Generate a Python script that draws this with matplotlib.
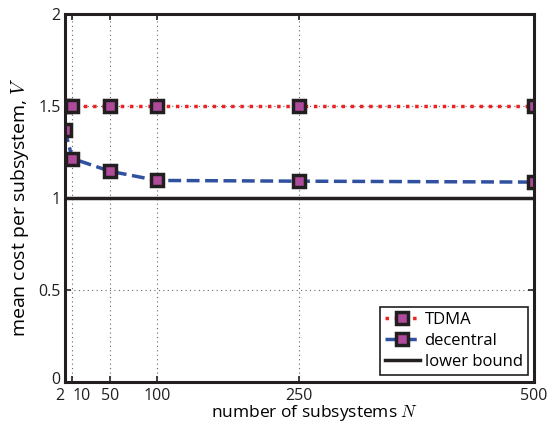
import matplotlib
matplotlib.use('Agg')
import matplotlib.pyplot as plt
from matplotlib.transforms import ScaledTranslation

N = [2, 10, 50, 100, 250, 500]
tdma = [1.5, 1.5, 1.5, 1.5, 1.5, 1.5]
decentral = [1.37, 1.213, 1.144, 1.094, 1.09, 1.085]
lower = [1.0, 1.0]
lower_N = [2, 500]

xticks = [2, 10, 50, 100, 250, 500]
xticklabels = ['2', '10', '50', '100', '250', '500']
yticks = [0, 0.5, 1, 1.5, 2]
yticklabels = ['0', '0.5', '1', '1.5', '2']

plt.rcParams['font.family'] = ['Open Sans', 'DejaVu Sans']
plt.rcParams['mathtext.fontset'] = 'cm'

fig = plt.figure(figsize=(5.49, 4.23), dpi=100)
ax = fig.add_axes([0.118, 0.097, 0.855, 0.871])

mk = dict(marker='s', markersize=8, markerfacecolor='#b04a9a',
          markeredgecolor='#231f20', markeredgewidth=2.5)
ax.plot(N, tdma, ':', color='#ee2222', lw=2.5, label='TDMA', **mk)
ax.plot(N, decentral, '--', color='#3050a0', lw=2.5, label='decentral', **mk)
ax.plot(lower_N, lower, '-', color='#231f20', lw=2.5, label='lower bound')

ax.set_xlim(2, 500)
ax.set_ylim(0, 2)
ax.set_xticks(xticks)
ax.set_xticklabels(xticklabels)
ax.set_yticks(yticks)
ax.set_yticklabels(yticklabels)
ax.tick_params(direction='in', labelsize=11.5, width=1.2, length=4,
               top=True, right=True, colors='#231f20')
ax.tick_params(axis='x', pad=4.5)
ax.tick_params(axis='y', pad=3)
tl = ax.get_xticklabels()
tl[0].set_horizontalalignment('right')
tl[1].set_horizontalalignment('left')
# nudge the "0" up a little so it does not sit on the "2"
y0 = ax.get_yticklabels()[0]
y0.set_transform(y0.get_transform() + ScaledTranslation(0, 2.5 / 72, fig.dpi_scale_trans))
for s in ax.spines.values():
    s.set_linewidth(2.2)
    s.set_color('#231f20')
ax.grid(True, linestyle=(0, (1, 3)), color='#666666', lw=0.8)

ax.set_xlabel('number of subsystems $N$', fontsize=12.5)
ax.set_ylabel('mean cost per subsystem, $V$', fontsize=14)
ax.xaxis.set_label_coords(0.533, -0.057)
ax.yaxis.set_label_coords(-0.072, 0.474)

leg = ax.legend(loc='lower right', fontsize=12, fancybox=False, framealpha=1,
                edgecolor='#231f20', borderpad=0.3, handlelength=2.1,
                handletextpad=0.3, labelspacing=0.3, borderaxespad=0.4)
leg.get_frame().set_linewidth(1.2)

fig.savefig('out.png', dpi=100)
